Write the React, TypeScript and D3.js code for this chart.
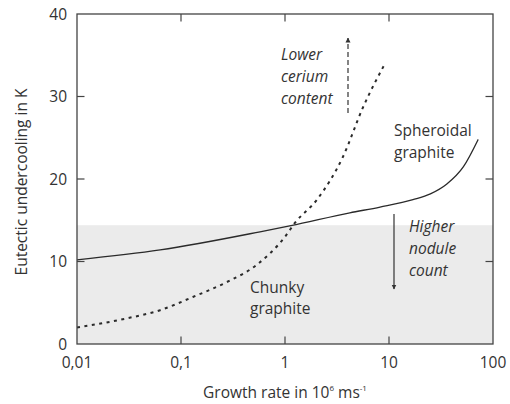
import React from "react";
import * as d3 from "d3";

const xTicks = [0.01, 0.1, 1, 10, 100];
const xTickLabels = ["0,01", "0,1", "1", "10", "100"];
const yTicks = [0, 10, 20, 30, 40];
const bandTop = 14.4;

// Spheroidal graphite (solid)
const spheroidalX = [0.01, 0.063, 0.575, 1.14, 4.2, 8.2, 17, 25, 36, 52, 72];
const spheroidalY = [10.2, 11.4, 13.6, 14.35, 15.9, 16.6, 17.5, 18.2, 19.4, 21.5, 24.8];

// Chunky graphite (dotted)
const chunkyX = [0.01, 0.03, 0.063, 0.13, 0.275, 0.535, 1.0, 1.25, 2.03, 3.61, 5.63, 9.16];
const chunkyY = [2.0, 3.1, 4.1, 5.7, 7.5, 9.6, 13.0, 14.7, 17.5, 22.7, 28.7, 34.0];

const W = 510;
const H = 404;
const left = 77, right = 493, top = 14, bottom = 344;
const FONT = "'Open Sans', sans-serif";
const TXT = "#333";
const AX = "#444";

export default function App() {
  const x = d3.scaleLog().domain([0.01, 100]).range([left, right]);
  const y = d3.scaleLinear().domain([0, 40]).range([bottom, top]);

  const line = d3
    .line<[number, number]>()
    .x((d) => x(d[0]))
    .y((d) => y(d[1]))
    .curve(d3.curveMonotoneX);

  const sph = line(spheroidalX.map((v, i) => [v, spheroidalY[i]] as [number, number])) || "";
  const chk = line(chunkyX.map((v, i) => [v, chunkyY[i]] as [number, number])) || "";

  const tl = 7.5;

  return (
    <svg
      width={W}
      height={H}
      style={{ position: "absolute", left: 0, top: 0, background: "#fff" }}
      fontFamily={FONT}
    >
      <defs>
        <marker id="ah" viewBox="0 0 10 10" refX="9" refY="5" markerWidth="5" markerHeight="7" orient="auto" markerUnits="userSpaceOnUse">
          <path d="M0,0 L10,5 L0,10 z" fill="#333" />
        </marker>
      </defs>
      {/* grey band */}
      <rect x={left} y={y(bandTop)} width={right - left} height={y(0) - y(bandTop)} fill="#ebebeb" />

      {/* curves */}
      <path d={sph} fill="none" stroke="#2a2a2a" strokeWidth={1.3} />
      <path d={chk} fill="none" stroke="#2a2a2a" strokeWidth={2} strokeDasharray="3,4.5" />

      {/* frame */}
      <rect x={left} y={top} width={right - left} height={bottom - top} fill="none" stroke={AX} strokeWidth={1.3} />
      {xTicks.slice(1, -1).map((t) => (
        <g key={"xt" + t}>
          <line x1={x(t)} x2={x(t)} y1={bottom} y2={bottom - tl} stroke={AX} strokeWidth={1.2} />
          <line x1={x(t)} x2={x(t)} y1={top} y2={top + tl} stroke={AX} strokeWidth={1.2} />
        </g>
      ))}
      {yTicks.slice(1, -1).map((t) => (
        <g key={"yt" + t}>
          <line x1={left} x2={left + tl} y1={y(t)} y2={y(t)} stroke={AX} strokeWidth={1.2} />
          <line x1={right} x2={right - tl} y1={y(t)} y2={y(t)} stroke={AX} strokeWidth={1.2} />
        </g>
      ))}

      {/* tick labels */}
      {xTicks.map((t, i) => (
        <text key={"xl" + t} x={x(t)} y={368} textAnchor="middle" fontSize={15.5} fill={TXT}>
          {xTickLabels[i]}
        </text>
      ))}
      {yTicks.map((t) => (
        <text key={"yl" + t} x={67} y={y(t) + 5.5} textAnchor="end" fontSize={15.5} fill={TXT}>
          {t}
        </text>
      ))}

      {/* axis titles */}
      <text x={285} y={398} textAnchor="middle" fontSize={15.5} fill={TXT}>
        Growth rate in 10
        <tspan fontSize={8} dy={-7}>6</tspan>
        <tspan dy={7}> ms</tspan>
        <tspan fontSize={8} dy={-7}>-1</tspan>
      </text>
      <text transform="translate(27,182) rotate(-90)" textAnchor="middle" fontSize={15.5} fill={TXT}>
        Eutectic undercooling in K
      </text>

      {/* annotations */}
      <g fontSize={15.5} fill={TXT} fontStyle="italic">
        <text x={281} y={60}>Lower</text>
        <text x={281} y={82}>cerium</text>
        <text x={281} y={104}>content</text>
        <text x={409} y={232}>Higher</text>
        <text x={409} y={254}>nodule</text>
        <text x={409} y={276}>count</text>
      </g>
      <g fontSize={15.5} fill={TXT}>
        <text x={394} y={136}>Spheroidal</text>
        <text x={394} y={158}>graphite</text>
        <text x={250} y={293}>Chunky</text>
        <text x={250} y={314}>graphite</text>
      </g>

      {/* arrows */}
      <line x1={348} x2={348} y1={113} y2={38} stroke="#333" strokeWidth={1.2} strokeDasharray="5,3" markerEnd="url(#ah)" />
      <line x1={394} x2={394} y1={214} y2={289} stroke="#333" strokeWidth={1.2} markerEnd="url(#ah)" />
    </svg>
  );
}
